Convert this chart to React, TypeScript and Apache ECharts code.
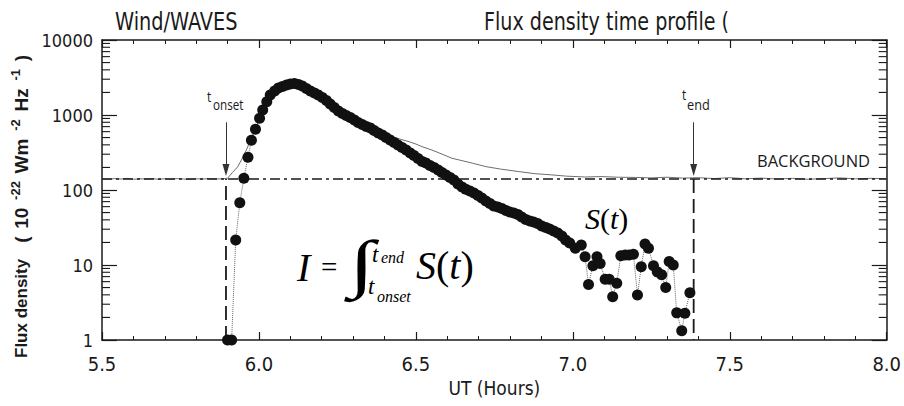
import React, { useEffect, useRef } from "react";
import * as echarts from "echarts";

// ---- data ----
const dotTimes = [
  5.9, 5.913, 5.926, 5.939, 5.952, 5.965, 5.976, 5.989, 6.002, 6.012, 6.025, 6.036,
  6.05, 6.062, 6.075, 6.088, 6.1, 6.113, 6.126, 6.138, 6.151, 6.164, 6.177, 6.189,
  6.202, 6.215, 6.227, 6.24, 6.253, 6.266, 6.278, 6.291, 6.304, 6.316, 6.329, 6.342,
  6.355, 6.367, 6.38, 6.393, 6.405, 6.418, 6.431, 6.443, 6.456, 6.469, 6.482, 6.494,
  6.507, 6.52, 6.532, 6.545, 6.558, 6.571, 6.583, 6.596, 6.609, 6.621, 6.634, 6.647,
  6.659, 6.672, 6.685, 6.698, 6.71, 6.723, 6.736, 6.748, 6.761, 6.774, 6.787, 6.799,
  6.812, 6.825, 6.837, 6.85, 6.863, 6.875, 6.888, 6.901, 6.914, 6.926, 6.939, 6.952,
  6.965, 6.977, 6.99, 7.008, 7.027, 7.039, 7.05, 7.064, 7.077, 7.087, 7.103, 7.116,
  7.127, 7.14, 7.153, 7.167, 7.179, 7.193, 7.206, 7.218, 7.23, 7.241, 7.257, 7.269,
  7.283, 7.296, 7.307, 7.32, 7.331, 7.347, 7.357, 7.373,
];
const dotFlux = [
  1, 1, 21.5, 67.7, 143, 273, 460, 645, 903, 1166, 1504, 1848,
  2089, 2291, 2399, 2512, 2590, 2630, 2551, 2437, 2255, 2089, 1964, 1848,
  1711, 1560, 1403, 1259, 1130, 1047, 985, 926, 858, 794, 747, 703,
  671, 621, 575, 541, 501, 464, 430, 398, 369, 341, 311, 288,
  263, 240, 229, 212, 200, 185, 171, 158, 147, 136, 120, 110,
  102, 97, 91.2, 84.5, 78.2, 71.3, 66.1, 61.2, 59.3, 56.6, 53.3, 50.9,
  49.4, 47.1, 43.7, 40.4, 38.6, 37.4, 35.7, 33.1, 31.6, 30.2, 28.4, 26.7,
  24.4, 21.5, 19.7, 16.7, 18.5, 12.9, 5.5, 9.8, 12.9, 10.5, 6.45, 6.45,
  3.78, 5.7, 13.3, 13.6, 13.6, 13.9, 3.98, 9.5, 19, 16.7, 9.8, 8.1,
  7.4, 5.0, 11.1, 10.0, 2.3, 1.33, 2.27, 4.27,
];
const greyTimes = [
  5.5, 5.52, 5.54, 5.56, 5.58, 5.6, 5.62, 5.64, 5.66, 5.68, 5.7, 5.72, 5.74, 5.76,
  5.78, 5.8, 5.82, 5.84, 5.86, 5.88, 5.9, 5.915, 5.932, 5.946, 5.96, 5.975, 5.991,
  6.005, 6.02, 6.036, 6.05, 6.075, 6.1, 6.126, 6.151, 6.177, 6.202, 6.227, 6.253,
  6.278, 6.304, 6.329, 6.355, 6.38, 6.405, 6.43, 6.455, 6.478, 6.5, 6.52, 6.551,
  6.58, 6.615, 6.637, 6.68, 6.723, 6.77, 6.828, 6.88, 6.933, 6.98, 7.04, 7.09,
  7.145, 7.2, 7.25, 7.3, 7.35, 7.4, 7.45, 7.5, 7.55, 7.6, 7.65, 7.7, 7.75, 7.8,
  7.85, 7.9, 7.95, 8.0,
];
const greyFlux = [
  141, 139, 142, 140, 143, 139, 141, 140, 142, 139, 141, 140, 142, 140,
  139, 141, 140, 142, 140, 141, 143, 170, 203, 260, 343, 480, 698,
  940, 1350, 1850, 2090, 2400, 2590, 2550, 2255, 1964, 1711, 1403, 1130,
  990, 865, 760, 690, 600, 545, 505, 470, 441, 410, 378, 341,
  305, 265, 252, 228, 205, 190, 176, 165, 159, 153, 149, 151,
  148, 147, 145, 148, 144, 146, 142, 146, 141, 144, 140, 143, 139, 142,
  145, 141, 143, 141,
];
const backgroundFlux = 140;
const tOnset = 5.895;
const tEnd = 7.385;
const arrowTopFlux = 800;
const arrowTipFlux = 185;
const xMin = 5.5;
const xMax = 8.0;
const xStep = 0.5;
const yMin = 1;
const yMax = 10000;
const yMinorTicks = [
  2, 3, 4, 5, 6, 7, 8, 9, 20, 30, 40, 50, 60, 70, 80, 90,
  200, 300, 400, 500, 600, 700, 800, 900, 2000, 3000, 4000, 5000, 6000, 7000, 8000, 9000,
];
// y-axis title pieces: [text, superscript?]
const yTitleMain = "Flux density";
const yTitleUnitPieces: [string, boolean][] = [
  ["(", false],
  ["10", false],
  ["-22", true],
  ["Wm", false],
  ["-2", true],
  ["Hz", false],
  ["-1", true],
  [")", false],
];

const NARROW = "'Liberation Sans Narrow', 'DejaVu Sans Condensed', 'Liberation Sans', sans-serif";
const SANS = "'Liberation Sans', Arial, sans-serif";
const SERIF = "'Liberation Serif', 'DejaVu Serif', serif";
const MYRIAD = "'Open Sans', 'Noto Sans', sans-serif";
const INK = "#1a1a1a";

function measure(text: string, font: string): number {
  const c = document.createElement("canvas").getContext("2d");
  if (!c) return text.length * 8;
  c.font = font;
  return c.measureText(text).width;
}

function buildYTitle(): any {
  const mainSize = 17;
  const unitSize = 19;
  const supSize = 13;
  const children: any[] = [];
  const totalSpan = 303;
  const mainW = measure(yTitleMain, `bold ${mainSize}px 'Liberation Sans'`);
  children.push({
    type: "text",
    x: 0,
    y: 0,
    style: { text: yTitleMain, fontFamily: SANS, fontWeight: "bold", fontSize: mainSize, fill: INK, align: "left", verticalAlign: "middle" },
  });
  const unitStart = mainW + 16;
  const widths = yTitleUnitPieces.map(([t, sup]) =>
    measure(t, `bold ${sup ? supSize : unitSize}px 'Liberation Sans'`)
  );
  const natural = widths.reduce((a, b) => a + b, 0);
  const gap = Math.min(8, Math.max(1, (totalSpan - unitStart - natural) / (yTitleUnitPieces.length - 1)));
  let cx = unitStart;
  yTitleUnitPieces.forEach(([t, sup], i) => {
    children.push({
      type: "text",
      x: cx,
      y: sup ? -6 : 0,
      style: {
        text: t,
        fontFamily: SANS,
        fontWeight: "bold",
        fontSize: sup ? supSize : unitSize,
        fill: INK,
        align: "left",
        verticalAlign: "middle",
      },
    });
    cx += widths[i] + gap;
  });
  return {
    type: "group",
    x: 21,
    y: 358,
    rotation: Math.PI / 2,
    children,
  };
}

export default function App() {
  const ref = useRef<HTMLDivElement>(null);

  useEffect(() => {
    const chart = echarts.init(ref.current as HTMLDivElement, null, { renderer: "svg" });

    const xCommon = {
      type: "value",
      min: xMin,
      max: xMax,
      interval: xStep,
      axisLine: { show: true, onZero: false, lineStyle: { color: INK, width: 1.5 } },
      axisTick: { show: true, inside: true, length: 8, lineStyle: { color: INK, width: 1.2 } },
      minorTick: { show: true, splitNumber: 5, length: 4, lineStyle: { color: INK, width: 1 } },
      splitLine: { show: false },
      minorSplitLine: { show: false },
    };
    const yCommon = {
      type: "log",
      logBase: 10,
      min: yMin,
      max: yMax,
      axisLine: { show: true, onZero: false, lineStyle: { color: INK, width: 1.5 } },
      axisTick: { show: true, inside: true, length: 15, lineStyle: { color: INK, width: 1.2 } },
      splitLine: { show: false },
    };

    const serifText = (x: number, y: number, text: string, size: number, italic: boolean, extra: any = {}) => ({
      type: "text",
      x,
      y,
      ...extra,
      style: {
        text,
        fontFamily: SERIF,
        fontStyle: italic ? "italic" : "normal",
        fontSize: size,
        fill: "#000",
        align: "left",
        verticalAlign: "middle",
      },
    });
    const myriadText = (x: number, y: number, text: string, size: number, scaleX: number) => ({
      type: "text",
      x,
      y,
      scaleX,
      style: { text, fontFamily: MYRIAD, fontSize: size, fill: INK, align: "left", verticalAlign: "middle" },
    });

    const option: any = {
      animation: false,
      backgroundColor: "#ffffff",
      grid: { left: 102, right: 15, top: 40, bottom: 66, containLabel: false },
      xAxis: [
        {
          ...xCommon,
          position: "bottom",
          axisLabel: {
            show: true,
            margin: 14,
            color: INK,
            fontFamily: NARROW,
            fontSize: 20,
            formatter: (v: number) => v.toFixed(1),
          },
          name: "UT (Hours)",
          nameLocation: "middle",
          nameGap: 38,
          nameTextStyle: { color: INK, fontFamily: NARROW, fontSize: 19 },
        },
        { ...xCommon, position: "top", axisLabel: { show: false } },
      ],
      yAxis: [
        {
          ...yCommon,
          position: "left",
          axisLabel: {
            show: true,
            margin: 9,
            color: INK,
            fontFamily: NARROW,
            fontSize: 18,
            formatter: (v: number) => String(Math.round(v)),
          },
        },
        { ...yCommon, position: "right", axisLabel: { show: false } },
      ],
      series: [
        {
          name: "total",
          type: "line",
          data: greyTimes.map((t, i) => [t, greyFlux[i]]),
          showSymbol: false,
          lineStyle: { color: "#6e6e6e", width: 1 },
          z: 2,
          silent: true,
        },
        {
          name: "background",
          type: "line",
          data: [
            [xMin, backgroundFlux],
            [xMax, backgroundFlux],
          ],
          showSymbol: false,
          lineStyle: { color: INK, width: 1.5, type: [10, 4, 3, 4] },
          z: 3,
          silent: true,
        },
        {
          name: "onset",
          type: "line",
          data: [
            [tOnset, yMin],
            [tOnset, backgroundFlux],
          ],
          showSymbol: false,
          lineStyle: { color: INK, width: 1.8, type: [14, 6] },
          z: 3,
          silent: true,
          markLine: {
            silent: true,
            symbol: ["none", "triangle"],
            symbolSize: [7, 12],
            label: { show: false },
            lineStyle: { color: "#333", width: 1, type: "solid" },
            data: [[{ coord: [tOnset, arrowTopFlux] }, { coord: [tOnset, arrowTipFlux] }]],
          },
        },
        {
          name: "end",
          type: "line",
          data: [
            [tEnd, backgroundFlux],
            [tEnd, yMin],
          ],
          showSymbol: false,
          lineStyle: { color: INK, width: 1.8, type: [14, 6] },
          z: 3,
          silent: true,
          markLine: {
            silent: true,
            symbol: ["none", "triangle"],
            symbolSize: [7, 12],
            label: { show: false },
            lineStyle: { color: "#333", width: 1, type: "solid" },
            data: [[{ coord: [tEnd, arrowTopFlux] }, { coord: [tEnd, arrowTipFlux] }]],
          },
        },
        {
          name: "S(t)",
          type: "line",
          data: dotTimes.map((t, i) => [t, dotFlux[i]]),
          showSymbol: true,
          showAllSymbol: true,
          symbol: "circle",
          symbolSize: 11,
          itemStyle: { color: "#111111" },
          lineStyle: { color: "#666", width: 1, type: "dotted" },
          z: 5,
          silent: true,
        },
        {
          name: "minorY",
          type: "custom",
          xAxisIndex: 0,
          yAxisIndex: 0,
          data: yMinorTicks.map((v) => [xMin, v]),
          encode: { x: 0, y: 1 },
          clip: false,
          silent: true,
          z: 10,
          renderItem: (params: any, api: any) => {
            const cs = params.coordSys;
            const y = api.coord([xMin, api.value(1)])[1];
            const st = { stroke: INK, lineWidth: 1.1 };
            return {
              type: "group",
              children: [
                { type: "line", shape: { x1: cs.x, y1: y, x2: cs.x + 8, y2: y }, style: st },
                {
                  type: "line",
                  shape: { x1: cs.x + cs.width - 8, y1: y, x2: cs.x + cs.width, y2: y },
                  style: st,
                },
              ],
            };
          },
        },
      ],
      graphic: [
        {
          type: "text",
          x: 115,
          y: 21,
          scaleX: 0.86,
          style: { text: "Wind/WAVES", fontFamily: NARROW, fontSize: 25, fill: INK, align: "left", verticalAlign: "middle" },
        },
        {
          type: "text",
          x: 484,
          y: 21,
          scaleX: 0.85,
          style: {
            text: "Flux density time profile (",
            fontFamily: NARROW,
            fontSize: 25,
            fill: INK,
            align: "left",
            verticalAlign: "middle",
          },
        },
        buildYTitle(),
        myriadText(757, 160, "BACKGROUND", 16.5, 1),
        // t_onset label
        myriadText(207, 96, "t", 15, 0.8),
        myriadText(213, 104, "onset", 15, 0.78),
        // t_end label
        myriadText(682, 94, "t", 15, 0.8),
        myriadText(687, 104, "end", 15, 0.85),
        // formula I = ∫ S(t)
        serifText(297, 267, "I", 40, true),
        serifText(321, 266.5, "=", 29, false),
        serifText(349, 263, "∫", 64, true, { scaleX: 1.45 }),
        serifText(372, 254, "t", 23, true),
        serifText(381, 257, "end", 16, true),
        serifText(368, 286, "t", 23, true),
        serifText(377, 296, "onset", 16, true),
        {
          type: "text",
          x: 416,
          y: 265,
          style: {
            text: "{i|S}{u|(}{i|t}{u|)}",
            fontFamily: SERIF,
            fontSize: 40,
            fill: "#000",
            verticalAlign: "middle",
            rich: {
              i: { fontFamily: SERIF, fontStyle: "italic", fontSize: 40, fill: "#000" },
              u: { fontFamily: SERIF, fontSize: 40, fill: "#000" },
            },
          },
        },
        {
          type: "text",
          x: 585,
          y: 218,
          style: {
            text: "{i|S}{u|(}{i|t}{u|)}",
            fontFamily: SERIF,
            fontSize: 30,
            fill: "#000",
            verticalAlign: "middle",
            rich: {
              i: { fontFamily: SERIF, fontStyle: "italic", fontSize: 30, fill: "#000" },
              u: { fontFamily: SERIF, fontSize: 30, fill: "#000" },
            },
          },
        },
      ],
    };

    chart.setOption(option);
    return () => chart.dispose();
  }, []);

  return (
    <div
      ref={ref}
      style={{ position: "fixed", left: 0, top: 0, width: 904, height: 406, background: "#ffffff" }}
    />
  );
}
